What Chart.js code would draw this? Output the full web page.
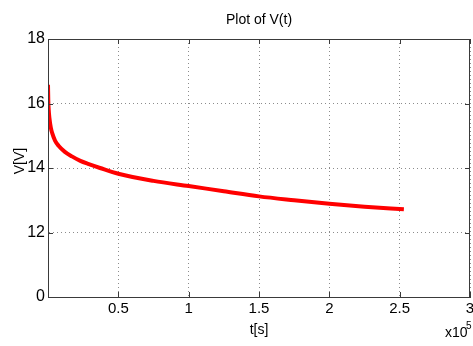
<!DOCTYPE html>
<html>
<head>
<meta charset="utf-8">
<script src="https://cdn.jsdelivr.net/npm/chart.js@4/dist/chart.umd.min.js"></script>
<style>
html,body{margin:0;padding:0;background:#fff;}
#wrap{width:473px;height:346px;position:relative;}
</style>
</head>
<body>
<div id="wrap"><canvas id="c" width="473" height="346"></canvas></div>
<script>
// time in seconds
const timeSeconds = [0, 200, 500, 1000, 2000, 3000, 5000, 7500, 12000, 17000, 23000, 29000, 37000, 50000, 75000, 100000, 125000, 150000, 175000, 200000, 225000, 253000];
// voltage in V
const voltage = [16.58, 16.1, 15.8, 15.55, 15.25, 15.08, 14.85, 14.69, 14.5, 14.36, 14.22, 14.12, 14.0, 13.82, 13.6, 13.44, 13.28, 13.12, 13.0, 12.89, 12.8, 12.72];

const xTickValues = [0, 50000, 100000, 150000, 200000, 250000, 300000];
const xTickLabels = ["", "0.5", "1", "1.5", "2", "2.5", "3"];
const yTickValues = [10, 12, 14, 16, 18];
const yTickLabels = ["0", "12", "14", "16", "18"];

const FONT = "'Liberation Sans', Arial, Helvetica, sans-serif";

const points = timeSeconds.map((t, i) => ({x: t, y: voltage[i]}));

const framePlugin = {
  id: 'frame',
  afterDraw(chart) {
    const {ctx, chartArea: a, scales: {x, y}} = chart;
    ctx.save();
    ctx.strokeStyle = '#3a3a3a';
    ctx.lineWidth = 1;
    ctx.beginPath();
    ctx.rect(Math.round(a.left) + 0.5, Math.round(a.top) + 0.5, Math.round(a.right - a.left) - 1, Math.round(a.bottom - a.top));
    ctx.stroke();
    const tl = 5;
    ctx.beginPath();
    xTickValues.forEach(v => {
      const px = Math.round(x.getPixelForValue(v)) + 0.5;
      ctx.moveTo(px, a.bottom); ctx.lineTo(px, a.bottom - tl);
      ctx.moveTo(px, a.top); ctx.lineTo(px, a.top + tl);
    });
    yTickValues.forEach(v => {
      const py = Math.round(y.getPixelForValue(v)) + 0.5;
      ctx.moveTo(a.left, py); ctx.lineTo(a.left + tl, py);
      ctx.moveTo(a.right, py); ctx.lineTo(a.right - tl, py);
    });
    ctx.stroke();
    // y axis title
    ctx.fillStyle = '#000';
    ctx.save();
    ctx.translate(20, 161);
    ctx.rotate(-Math.PI / 2);
    ctx.textAlign = 'center';
    ctx.textBaseline = 'middle';
    ctx.font = "14px " + FONT;
    ctx.fillText('V[V]', 0, 0);
    ctx.restore();
    // exponent label
    ctx.textBaseline = 'alphabetic';
    ctx.textAlign = 'left';
    ctx.font = "14px " + FONT;
    ctx.fillText('x10', 445, 337);
    ctx.font = "10px " + FONT;
    ctx.fillText('5', 466, 329);
    ctx.restore();
  }
};

new Chart(document.getElementById('c'), {
  type: 'line',
  data: {
    datasets: [{
      data: points,
      borderColor: '#ff0000',
      borderWidth: 4,
      pointRadius: 0,
      fill: false,
      cubicInterpolationMode: 'monotone'
    }]
  },
  options: {
    responsive: false,
    animation: false,
    devicePixelRatio: 1,
    layout: {padding: {left: 0, right: 3, top: 0, bottom: 0}},
    plugins: {
      legend: {display: false},
      tooltip: {enabled: false},
      title: {
        display: true,
        text: 'Plot of V(t)',
        fullSize: false,
        color: '#000',
        font: {family: FONT, size: 14, weight: 'normal'},
        padding: {top: 12, bottom: 10.2}
      }
    },
    scales: {
      x: {
        type: 'linear',
        min: 0, max: 300000,
        afterBuildTicks(s) { s.ticks = xTickValues.map(v => ({value: v})); },
        afterFit(s) { s.height = 49; s.paddingLeft = 0; s.paddingRight = 0; },
        ticks: {
          color: '#000',
          padding: 3,
          maxRotation: 0,
          autoSkip: false,
          font: {family: FONT, size: 15},
          callback(v) { const i = xTickValues.indexOf(v); return i >= 0 ? xTickLabels[i] : ''; }
        },
        grid: {color: '#8c8c8c', drawTicks: false, lineWidth: 1},
        border: {display: true, color: '#3a3a3a', dash: [1, 3]},
        title: {display: true, text: 't[s]', color: '#000', font: {family: FONT, size: 14}, padding: {top: 0, bottom: 7.6}}
      },
      y: {
        type: 'linear',
        min: 10, max: 18,
        afterBuildTicks(s) { s.ticks = yTickValues.map(v => ({value: v})); },
        afterFit(s) { s.width = 48; s.paddingTop = 0; s.paddingBottom = 0; },
        ticks: {
          color: '#000',
          padding: 3,
          autoSkip: false,
          font: {family: FONT, size: 16},
          callback(v) { const i = yTickValues.indexOf(v); return i >= 0 ? yTickLabels[i] : ''; }
        },
        grid: {color: '#8c8c8c', drawTicks: false, lineWidth: 1},
        border: {display: true, color: '#3a3a3a', dash: [1, 3]},
        title: {display: false}
      }
    }
  },
  plugins: [framePlugin]
});
</script>
</body>
</html>
